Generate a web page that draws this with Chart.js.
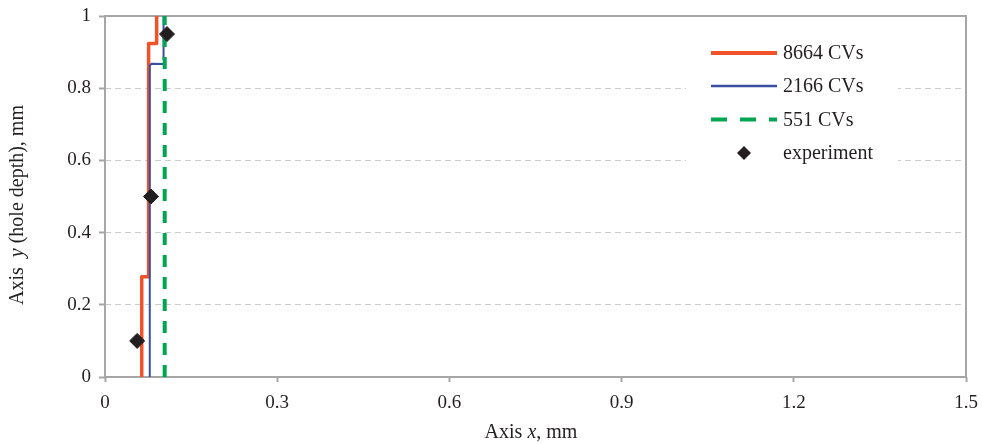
<!DOCTYPE html>
<html>
<head>
<meta charset="utf-8">
<title>Hole depth</title>
<script src="https://cdn.jsdelivr.net/npm/chart.js"></script>
<style>
body { margin: 0; background: white; }
#wrap { width: 982px; height: 444px; }
</style>
</head>
<body>
<div id="wrap"><canvas id="myChart" width="982" height="444"></canvas></div>
<script>
// ticks
const xTicks = [0, 0.3, 0.6, 0.9, 1.2, 1.5];
const xTickLabels = ["0", "0.3", "0.6", "0.9", "1.2", "1.5"];
const yTicks = [0, 0.2, 0.4, 0.6, 0.8, 1];
const yTickLabels = ["0", "0.2", "0.4", "0.6", "0.8", "1"];

const seriesNames = ["8664 CVs", "2166 CVs", "551 CVs", "experiment"];

// 8664 CVs
const cv8664X = [0.064, 0.064, 0.076, 0.076, 0.090, 0.090];
const cv8664Y = [0, 0.278, 0.278, 0.924, 0.924, 1];
// 2166 CVs
const cv2166X = [0.078, 0.078, 0.081, 0.103, 0.105, 0.102, 0.102];
const cv2166Y = [0, 0.862, 0.868, 0.867, 0.873, 0.880, 1];
// 551 CVs
const cv551X = [0.104, 0.104];
const cv551Y = [0, 1];
// experiment
const expX = [0.056, 0.080, 0.108];
const expY = [0.10, 0.50, 0.95];

const colors = ["#f0522a", "#3b4fa0", "#00a651", "#231f20"];
const axisGray = "#a6a6a6";
const serif = "'Liberation Serif', 'Times New Roman', serif";

function pts(xs, ys) {
	return xs.map((x, i) => ({x: x, y: ys[i]}));
}

// frame, axis titles and legend drawn by hand
const extras = {
	id: "extras",
	beforeDatasetsDraw(chart) {
		const a = chart.chartArea;
		const c = chart.ctx;
		c.save();
		c.strokeStyle = axisGray;
		c.lineWidth = 2;
		c.strokeRect(a.left, a.top, a.right - a.left, a.bottom - a.top);
		c.restore();
	},
	afterDraw(chart) {
		const c = chart.ctx;
		c.save();
		c.fillStyle = "#231f20";
		c.textBaseline = "middle";

		// x title
		drawParts(c, [["Axis ", false], ["x", true], [", mm", false]], 531, 433);
		// y title
		c.save();
		c.translate(18, 205);
		c.rotate(-Math.PI / 2);
		drawParts(c, [["Axis  ", false], ["y", true], [" (hole depth), mm", false]], 0, 0);
		c.restore();

		// legend
		const lx = 711, lw = 66, tx = 783;
		const rows = [53, 86, 119.5, 153];
		c.fillStyle = "white";
		c.fillRect(686, 30, 212, 150);
		c.font = "20px " + serif;
		c.textAlign = "left";
		for (let i = 0; i < 4; i++) {
			const y = rows[i];
			c.strokeStyle = colors[i];
			c.fillStyle = colors[i];
			if (i == 0) { c.lineWidth = 4; c.setLineDash([]); }
			if (i == 1) { c.lineWidth = 2.5; c.setLineDash([]); }
			if (i == 2) { c.lineWidth = 4; c.setLineDash([16, 13]); }
			if (i < 3) {
				c.beginPath();
				c.moveTo(lx, y);
				c.lineTo(lx + lw, y);
				c.stroke();
			} else {
				c.beginPath();
				c.moveTo(lx + lw / 2 - 7, y);
				c.lineTo(lx + lw / 2, y - 7);
				c.lineTo(lx + lw / 2 + 7, y);
				c.lineTo(lx + lw / 2, y + 7);
				c.closePath();
				c.fill();
			}
			c.fillStyle = "#231f20";
			c.fillText(seriesNames[i], tx, y + 1);
		}
		c.restore();
	}
};

function drawParts(c, parts, cx, cy) {
	let total = 0;
	parts.forEach(p => {
		c.font = (p[1] ? "italic " : "") + "20px " + serif;
		total += c.measureText(p[0]).width;
	});
	let x = cx - total / 2;
	c.textAlign = "left";
	parts.forEach(p => {
		c.font = (p[1] ? "italic " : "") + "20px " + serif;
		c.fillText(p[0], x, cy);
		x += c.measureText(p[0]).width;
	});
}

const chart = new Chart("myChart", {
	type: "scatter",
	data: {
		datasets: [
			{
				label: seriesNames[0],
				data: pts(cv8664X, cv8664Y),
				showLine: true,
				borderColor: colors[0],
				borderWidth: 3.5,
				borderJoinStyle: "round",
				pointRadius: 0,
				order: 4
			},
			{
				label: seriesNames[1],
				data: pts(cv2166X, cv2166Y),
				showLine: true,
				borderColor: colors[1],
				borderWidth: 2,
				borderJoinStyle: "round",
				pointRadius: 0,
				order: 3
			},
			{
				label: seriesNames[2],
				data: pts(cv551X, cv551Y),
				showLine: true,
				borderColor: colors[2],
				borderWidth: 4,
				borderDash: [12, 10],
				pointRadius: 0,
				order: 2
			},
			{
				label: seriesNames[3],
				data: pts(expX, expY),
				showLine: false,
				pointStyle: "rectRot",
				pointRadius: 7.5,
				backgroundColor: colors[3],
				borderColor: colors[3],
				borderWidth: 1,
				order: 1
			}
		]
	},
	options: {
		responsive: false,
		animation: false,
		layout: { padding: { left: 0, top: 16, right: 16, bottom: 0 } },
		plugins: {
			legend: { display: false },
			tooltip: { enabled: false }
		},
		scales: {
			x: {
				type: "linear",
				min: 0,
				max: 1.5,
				afterBuildTicks: (s) => { s.ticks = xTicks.map(v => ({value: v})); },
				afterFit: (s) => { s.height = 67; s.paddingLeft = 0; s.paddingRight = 0; },
				border: { display: false },
				grid: {
					drawOnChartArea: false,
					drawTicks: true,
					tickLength: 5,
					tickColor: axisGray,
					tickWidth: 2
				},
				ticks: {
					padding: 10,
					color: "#231f20",
					font: { family: serif, size: 19 },
					maxRotation: 0,
					callback: (v, i) => xTickLabels[i]
				}
			},
			y: {
				type: "linear",
				min: 0,
				max: 1,
				afterBuildTicks: (s) => { s.ticks = yTicks.map(v => ({value: v})); },
				afterFit: (s) => { s.width = 105; s.paddingTop = 0; s.paddingBottom = 0; },
				border: { display: false, dash: [6, 4] },
				grid: {
					color: (ctx) => (ctx.tick && (ctx.tick.value == 0 || ctx.tick.value == 1)) ? "rgba(0,0,0,0)" : "#cccccc",
					lineWidth: 1,
					drawTicks: true,
					tickLength: 6,
					tickColor: axisGray,
					tickWidth: 2,
					tickBorderDash: []
				},
				ticks: {
					padding: 8,
					color: "#231f20",
					font: { family: serif, size: 19 },
					callback: (v, i) => yTickLabels[i]
				}
			}
		}
	},
	plugins: [extras]
});
</script>
</body>
</html>
